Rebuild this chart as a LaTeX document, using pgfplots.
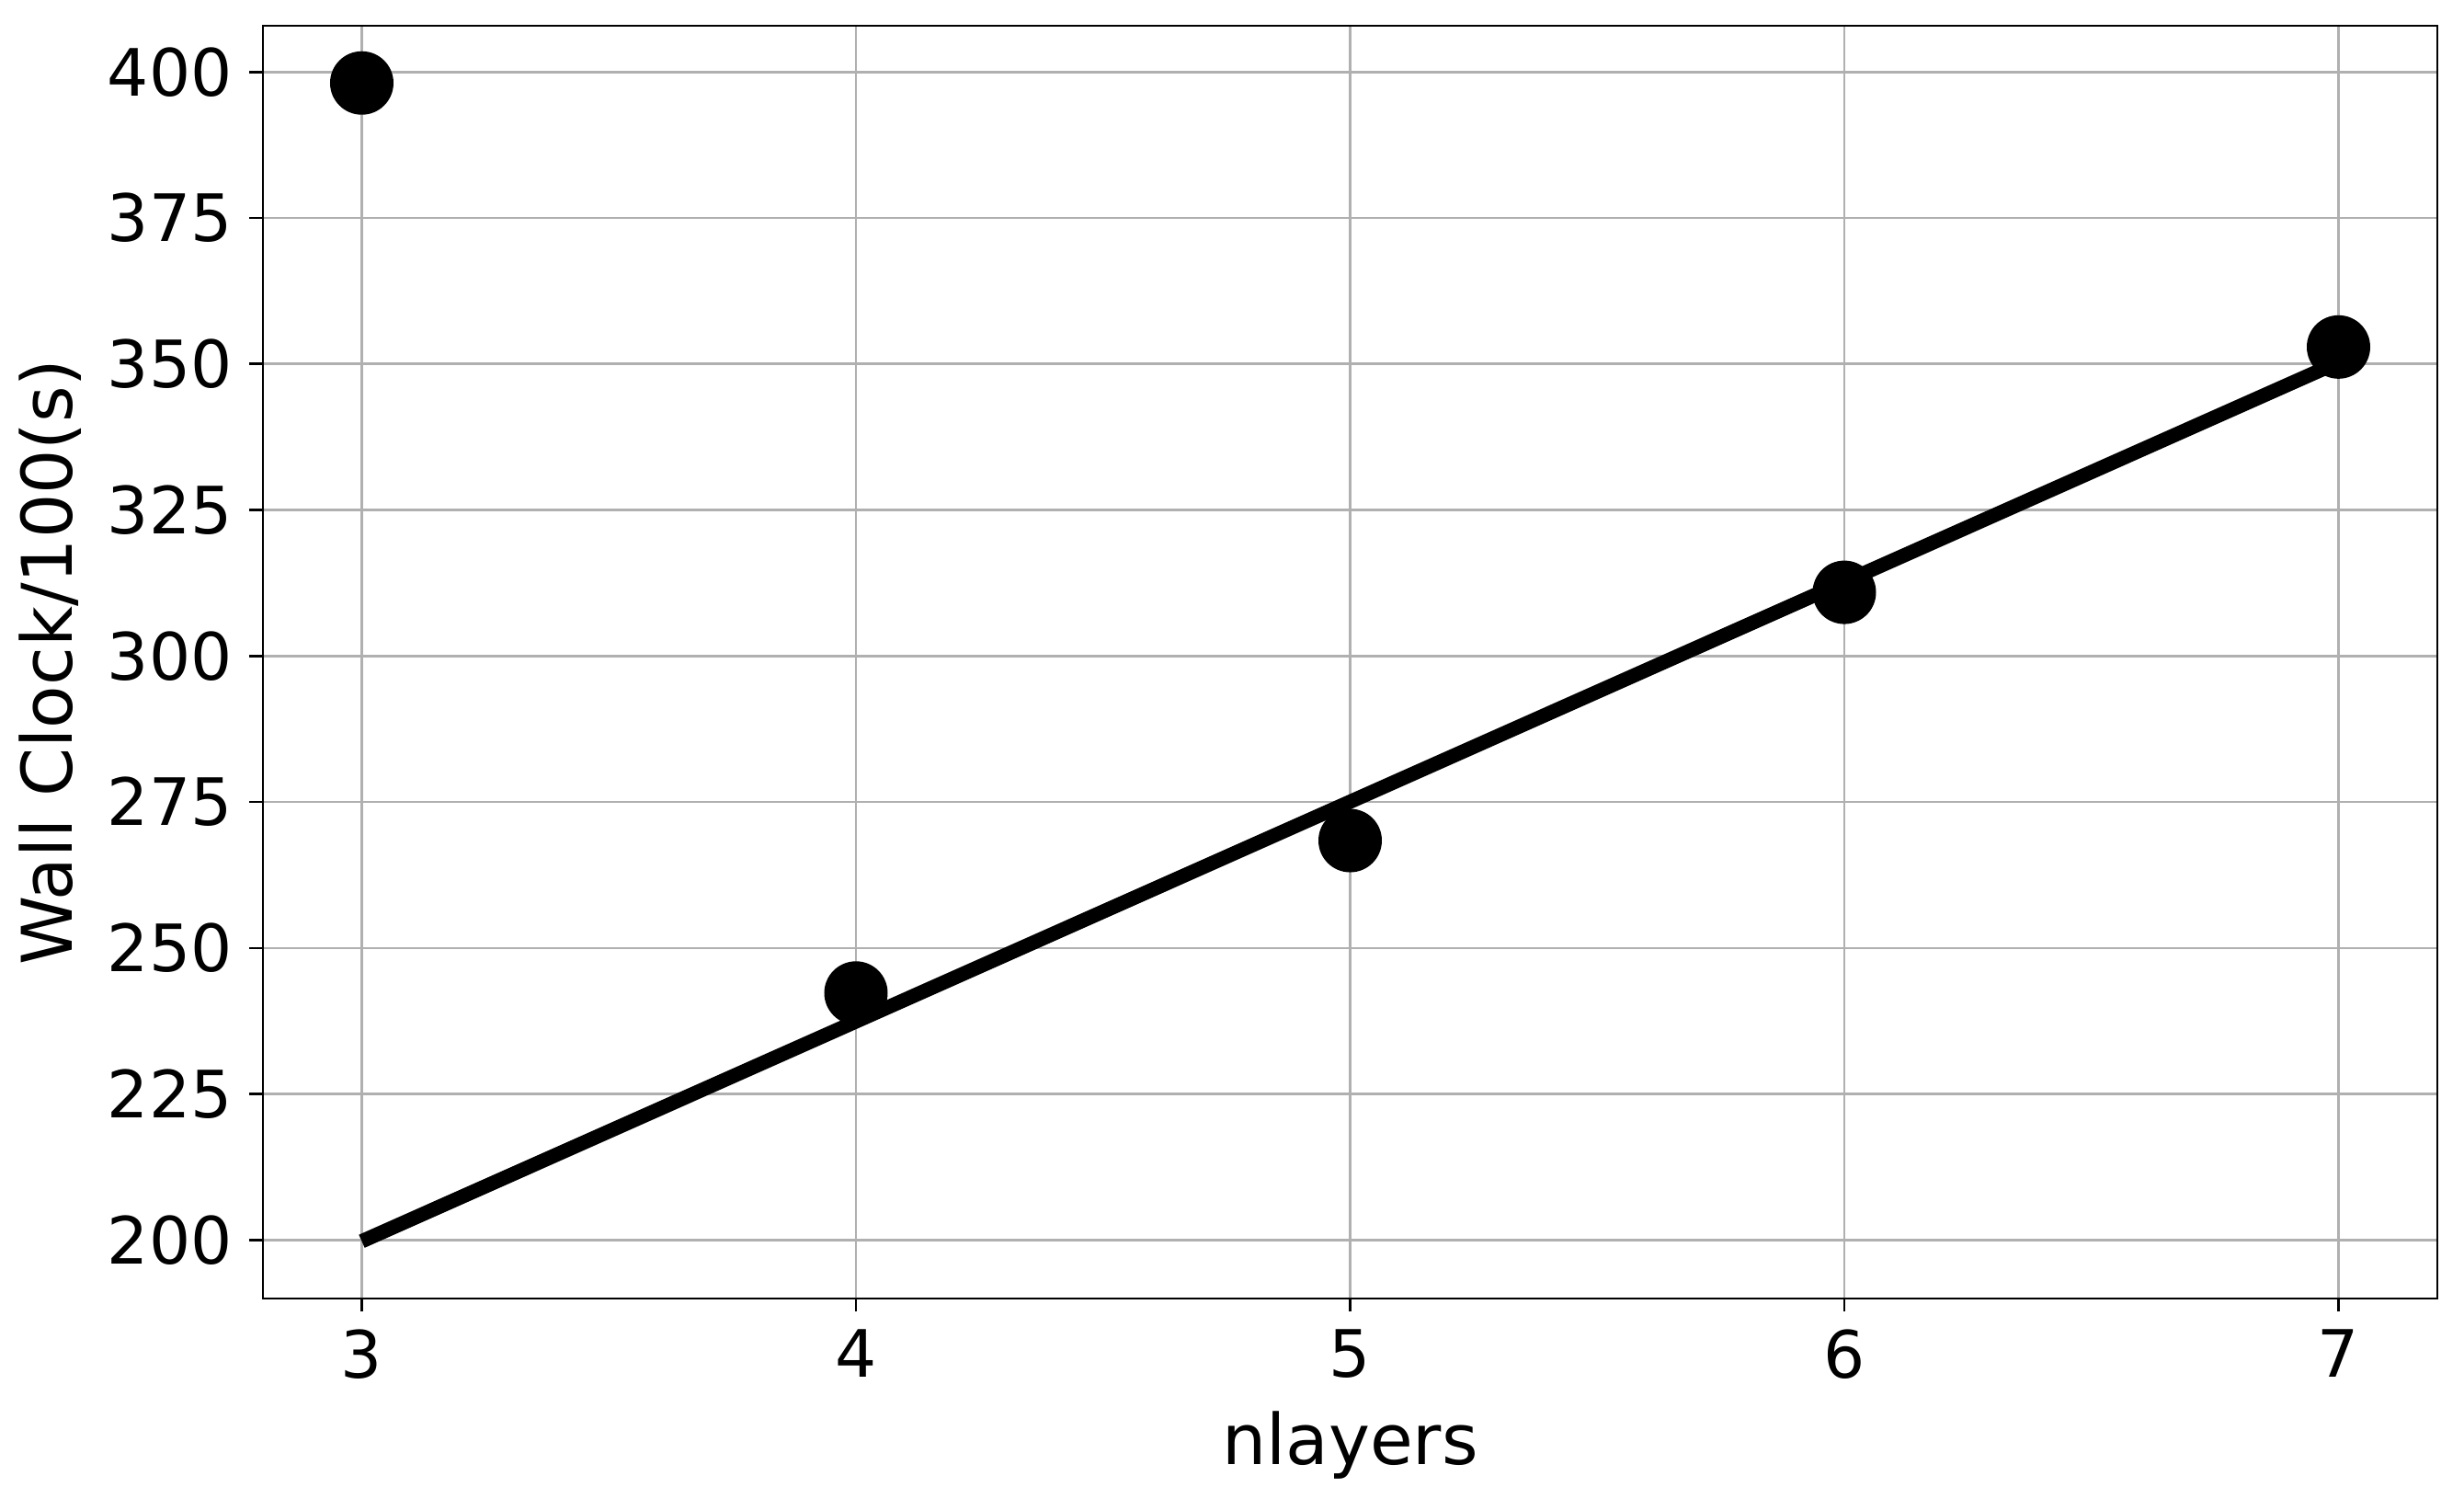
\documentclass[border=0pt]{standalone}
\usepackage{fontspec}
\setmainfont{DejaVu Sans}
\usepackage{pgfplots}
\pgfplotsset{compat=1.18}

\definecolor{gridgray}{HTML}{B0B0B0}

\begin{document}
\begin{tikzpicture}
\begin{axis}[
    width=473pt, height=276.8pt,
    scale only axis,
    xmin=2.8, xmax=7.2,
    ymin=190, ymax=407.9,
    xtick={3,4,5,6,7},
    ytick={200,225,250,275,300,325,350,375,400},
    /pgf/number format/assume math mode=true,
    ticklabel style={font=\fontsize{14.2}{16}\selectfont, inner sep=3.6pt},
    label style={font=\fontsize{15.2}{18}\selectfont},
    xlabel={nlayers},
    ylabel={Wall Clock/100(s)},
    xlabel style={yshift=0pt},
    ylabel style={yshift=-1.5pt},
    tick align=outside,
    major tick length=2.9pt,
    tick style={black, line width=0.55pt},
    xtick pos=bottom, ytick pos=left,
    axis line style={line width=0.55pt},
    grid=major,
    major grid style={gridgray, line width=0.55pt},
    clip=false,
]
\addplot[black, line width=3.1pt] coordinates {(3,199.8) (7,350.3)};
\addplot[only marks, mark=*, mark size=6.7pt, black] coordinates {
    (3,398.1) (4,242.3) (5,268.4) (6,310.9) (7,352.9)};
\end{axis}
\path (current axis.south west) ++(-57.2pt,-43.6pt) coordinate (bl);
\path (current axis.north east) ++(5.8pt,5.6pt) coordinate (tr);
\path (bl) rectangle (tr);
\end{tikzpicture}
\end{document}
